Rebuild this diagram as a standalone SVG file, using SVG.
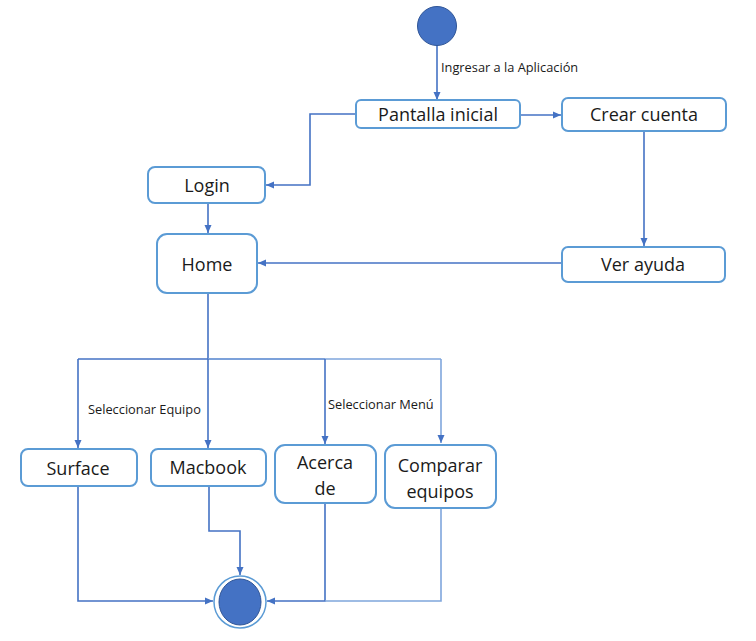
<svg xmlns="http://www.w3.org/2000/svg" width="756" height="641" viewBox="0 0 756 641">
<defs>
<style>
.box{fill:#fff;stroke:#5B9BD5;stroke-width:2}
.t{font-family:"Open Sans","Noto Sans",sans-serif;font-size:18px;fill:#1a1a1a;text-anchor:middle}
.lbl{font-family:"Open Sans","Noto Sans",sans-serif;font-size:12.8px;fill:#1a1a1a}
.c{fill:none;stroke:#4472C4;stroke-width:1.6}
.c2{fill:none;stroke:#7FA6DC;stroke-width:1.6}
</style>
<marker id="ah" markerWidth="10" markerHeight="10" refX="9" refY="5" orient="auto" markerUnits="userSpaceOnUse">
<path d="M1,1.5 L9,5 L1,8.5 Z" fill="#4472C4"/>
</marker>
</defs>
<rect width="756" height="641" fill="#fff"/>
<g id="connectors">
<path class="c" d="M437,45 V100" marker-end="url(#ah)"/>
<path class="c" d="M520,115 H561" marker-end="url(#ah)"/>
<path class="c" d="M356,114 H310 V185 H266" marker-end="url(#ah)"/>
<path class="c" d="M208,203 V233" marker-end="url(#ah)"/>
<path class="c" d="M644,131 V246" marker-end="url(#ah)"/>
<path class="c" d="M562,263 H258" marker-end="url(#ah)"/>
<path class="c" d="M208,293 V359"/>
<path class="c" d="M78,359 H325"/>
<path class="c2" d="M208,359 H441"/>
<path class="c" d="M78,359 V448" marker-end="url(#ah)"/>
<path class="c" d="M208,359 V448" marker-end="url(#ah)"/>
<path class="c" d="M325,359 V444" marker-end="url(#ah)"/>
<path class="c2" d="M441,359 V443" marker-end="url(#ah)"/>
<path class="c" d="M78,486 V601 H213" marker-end="url(#ah)"/>
<path class="c" d="M209,486 V531 H240 V575" marker-end="url(#ah)"/>
<path class="c" d="M325,503 V601 H267" marker-end="url(#ah)"/>
<path class="c2" d="M441,508 V601 H325"/>
</g>
<text class="lbl" x="441" y="72">Ingresar a la Aplicación</text>
<text class="lbl" x="88" y="414">Seleccionar Equipo</text>
<text class="lbl" x="328" y="409">Seleccionar Menú</text>
<g id="start"><circle cx="437" cy="26" r="19.5" fill="#4472C4" stroke="#2F5597" stroke-width="1"/></g>
<g id="pantalla"><rect class="box" x="356" y="100" width="164" height="28" rx="5"/><text class="t" x="438" y="121">Pantalla inicial</text></g>
<g id="crear"><rect class="box" x="562" y="98" width="164" height="33" rx="6"/><text class="t" x="644" y="121">Crear cuenta</text></g>
<g id="login"><rect class="box" x="148" y="167" width="117" height="36" rx="7"/><text class="t" x="207" y="192">Login</text></g>
<g id="home"><rect class="box" x="157" y="234" width="100" height="59" rx="10"/><text class="t" x="207" y="271">Home</text></g>
<g id="ayuda"><rect class="box" x="562" y="247" width="163" height="35" rx="6"/><text class="t" x="643" y="271">Ver ayuda</text></g>
<g id="surface"><rect class="box" x="21" y="449" width="116" height="37" rx="7"/><text class="t" x="78" y="475">Surface</text></g>
<g id="macbook"><rect class="box" x="151" y="449" width="115" height="37" rx="7"/><text class="t" x="208" y="474">Macbook</text></g>
<g id="acerca"><rect class="box" x="275" y="445" width="101" height="58" rx="10"/><text class="t" x="325" y="469">Acerca</text><text class="t" x="325" y="495">de</text></g>
<g id="comparar"><rect class="box" x="385" y="445" width="111" height="63" rx="10"/><text class="t" x="440" y="472">Comparar</text><text class="t" x="440" y="498">equipos</text></g>
<g id="end"><circle cx="240" cy="602" r="26" fill="#fff" stroke="#5B9BD5" stroke-width="1.5"/><ellipse cx="240" cy="602" rx="21" ry="23" fill="#4472C4" stroke="#2F5597" stroke-width="1"/></g>
</svg>
